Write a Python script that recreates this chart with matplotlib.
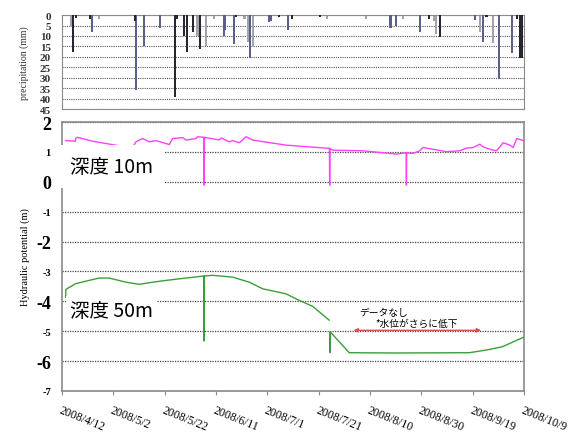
import numpy as np
import matplotlib
matplotlib.use('Agg')
import matplotlib.pyplot as plt

# days counted from 2008/4/12
tick_days = [0, 20, 40, 60, 80, 100, 120, 140, 160, 180]
tick_labels = ['2008/4/12', '2008/5/2', '2008/5/22', '2008/6/11', '2008/7/1',
               '2008/7/21', '2008/8/10', '2008/8/30', '2008/9/19', '2008/10/9']

# precipitation (mm), three gauges
rain_dark_day = [4.4, 5.5, 10.9, 28.4, 44.1, 44.9, 47.6, 48.7, 50.9, 53.9, 67.8,
                 84.7, 89.5, 100.6, 142.9, 147.2, 165.4, 177.2, 178.6, 179.4]
rain_dark_mm = [17.8, 1.5, 2, 3, 39, 2, 10, 17.8, 8, 16, 1,
                1, 2, 1, 2, 10.7, 1, 2, 20.7, 20.7]
rain_blue_day = [11.8, 28.8, 32.0, 38.1, 63.0, 63.5, 66.9, 73.4, 80.8, 81.5, 88.0,
                 128.0, 130.0, 139.4, 160.9, 163.9, 170.4, 175.4]
rain_blue_mm = [8, 35.7, 15, 6.4, 10, 7, 14, 20.7, 3.5, 3, 7,
                6.4, 5, 8, 2.5, 13, 30.6, 18.2]
rain_grey_day = [3.5, 14.4, 52.8, 56.1, 59.1, 71.1, 72.4, 74.3, 103.4, 118.3,
                 132.9, 145.0, 145.9, 162.8, 168.0]
rain_grey_mm = [5, 2, 10, 14.7, 2, 2, 13, 14.7, 2, 2,
                2, 3, 9, 8, 13.5]

# hydraulic potential, depth 10 m
h10_day = [1.4, 5.2, 5.3, 6.0, 12, 20, 27.5, 28.8, 31.4, 34.0, 36.6, 41.8, 43.1,
           47.0, 48.3, 52.2, 52.8, 55.3, 55.4, 55.5, 61.3, 62.0, 65.2, 66.5, 69.1,
           71.7, 74.3, 79.5, 87.3, 95, 104.2, 104.3, 104.4, 105.5, 117.3, 130.3,
           134.1, 134.2, 134.3, 136.8, 139.4, 140.7, 144.6, 149.8, 155.0, 157.6,
           160.2, 162.8, 164.1, 166.7, 169.3, 170.6, 171.9, 174.5, 175.8, 177.2,
           179.1, 180.0]
h10_val = [1.38, 1.36, 1.45, 1.49, 1.36, 1.24, 1.14, 1.34, 1.45, 1.34, 1.38, 1.25, 1.45,
           1.48, 1.40, 1.45, 1.51, 1.49, -0.11, 1.49, 1.40, 1.47, 1.34, 1.38, 1.31,
           1.51, 1.40, 1.33, 1.23, 1.18, 1.12, -0.11, 1.12, 1.06, 1.04, 0.93,
           0.97, -0.11, 0.97, 0.95, 1.04, 1.15, 1.09, 1.01, 1.04, 1.13,
           1.15, 1.26, 1.17, 1.09, 1.04, 1.17, 1.31, 1.23, 1.15, 1.45,
           1.40, 1.38]

# hydraulic potential, depth 50 m (gap = no data)
h50_day = [1.4, 1.5, 5.3, 14.4, 18.4, 24.9, 30.1, 35.3, 40.5, 48.3, 53.5, 55.3,
           55.4, 55.5, 58.7, 66.5, 73.0, 78.2, 87.3, 92.0, 97.7, 104.1, None,
           104.4, 104.5, 104.6, 111.9, 130, 158.8, 166.0, 171.6, 179.9]
h50_val = [-3.86, -3.60, -3.41, -3.22, -3.22, -3.36, -3.43, -3.36, -3.30, -3.22, -3.17, -3.15,
           -5.33, -3.15, -3.13, -3.19, -3.36, -3.58, -3.75, -3.95, -4.17, -4.63, None,
           -5.03, -5.72, -5.03, -5.72, -5.73, -5.72, -5.62, -5.52, -5.20]

gap_start, gap_end = 112.5, 164.4

serif = 'Liberation Serif'
jp = ['Noto Sans CJK JP', 'DejaVu Sans']
edge = '#8a8a8a'

fig = plt.figure(figsize=(5.71, 4.35), dpi=100)
ax1 = fig.add_axes([0.1086, 0.747, 0.809, 0.216])
ax2 = fig.add_axes([0.1086, 0.099, 0.809, 0.618])

# precipitation
ax1.bar(rain_grey_day, rain_grey_mm, width=0.8, color='#a3a3ad', zorder=2)
ax1.bar(rain_blue_day, rain_blue_mm, width=0.8, color='#5a5f8e', zorder=3)
ax1.bar(rain_dark_day, rain_dark_mm, width=0.8, color='#262630', zorder=4)
ax1.set_xlim(0, 180)
ax1.set_ylim(45, 0)
ax1.set_yticks(range(0, 50, 5))
ax1.set_yticklabels([str(v) for v in range(0, 50, 5)], family=serif,
                    fontsize=8, fontweight='bold', color='#333')
ax1.set_xticks([])
ax1.tick_params(axis='y', length=0, pad=8)
ax1.grid(axis='y', linestyle=(0, (1, 1)), color='#555', linewidth=0.8)
ax1.set_axisbelow(True)
ax1.set_ylabel('precipitation (mm)', family=serif, fontsize=7, color='#333', labelpad=8)
for s in ax1.spines.values():
    s.set_color(edge)

# hydraulic potential
ax2.plot(h10_day, h10_val, color='#ff40ff', linewidth=1, zorder=3)
d50 = np.array([np.nan if v is None else v for v in h50_day], dtype=float)
v50 = np.array([np.nan if v is None else v for v in h50_val], dtype=float)
ax2.plot(d50, v50, color='#3a9e3a', linewidth=1, zorder=3)
ax2.set_xlim(0, 180)
ax2.set_ylim(-7, 2)
ax2.set_yticks(range(-7, 3))
ax2.set_yticklabels([str(v) for v in range(-7, 3)], family=serif)
for lab, v in zip(ax2.get_yticklabels(), range(-7, 3)):
    lab.set_fontweight('bold')
    lab.set_fontsize(13 if v % 2 == 0 else 7.5)
ax2.tick_params(axis='y', length=0, pad=8)
ax2.grid(axis='y', linestyle=(0, (1, 1)), color='#444', linewidth=0.9)
ax2.set_axisbelow(True)
ax2.set_xticks(tick_days)
ax2.set_xticklabels(tick_labels, rotation=-22, ha='left', va='top',
                    rotation_mode='anchor', family=serif, fontsize=8.5)
ax2.tick_params(axis='x', length=3, color=edge, pad=6)
ax2.set_ylabel('Hydraulic potential (m)', family=serif, fontsize=7.5, labelpad=4)
for s in ax2.spines.values():
    s.set_color(edge)
    s.set_linewidth(1.2)

ax2.text(3, 0.5, '深度 10m', family=jp, fontsize=14, va='center', ha='left',
         bbox=dict(facecolor='white', edgecolor='none', pad=8), zorder=5)
ax2.text(3, -4.3, '深度 50m', family=jp, fontsize=14, va='center', ha='left',
         bbox=dict(facecolor='white', edgecolor='none', pad=3), zorder=5)

ax2.annotate('', xy=(gap_start, -4.97), xytext=(gap_end, -4.97),
             arrowprops=dict(arrowstyle='<|-|>', color='#e05050', lw=1,
                             mutation_scale=6), zorder=4)
ax2.text(116, -4.36, 'データなし', family=jp, fontsize=7, ha='left', va='center')
ax2.text(122, -4.74, '*水位がさらに低下', family=jp, fontsize=7, ha='left', va='center')

fig.savefig('out.png', dpi=100)
